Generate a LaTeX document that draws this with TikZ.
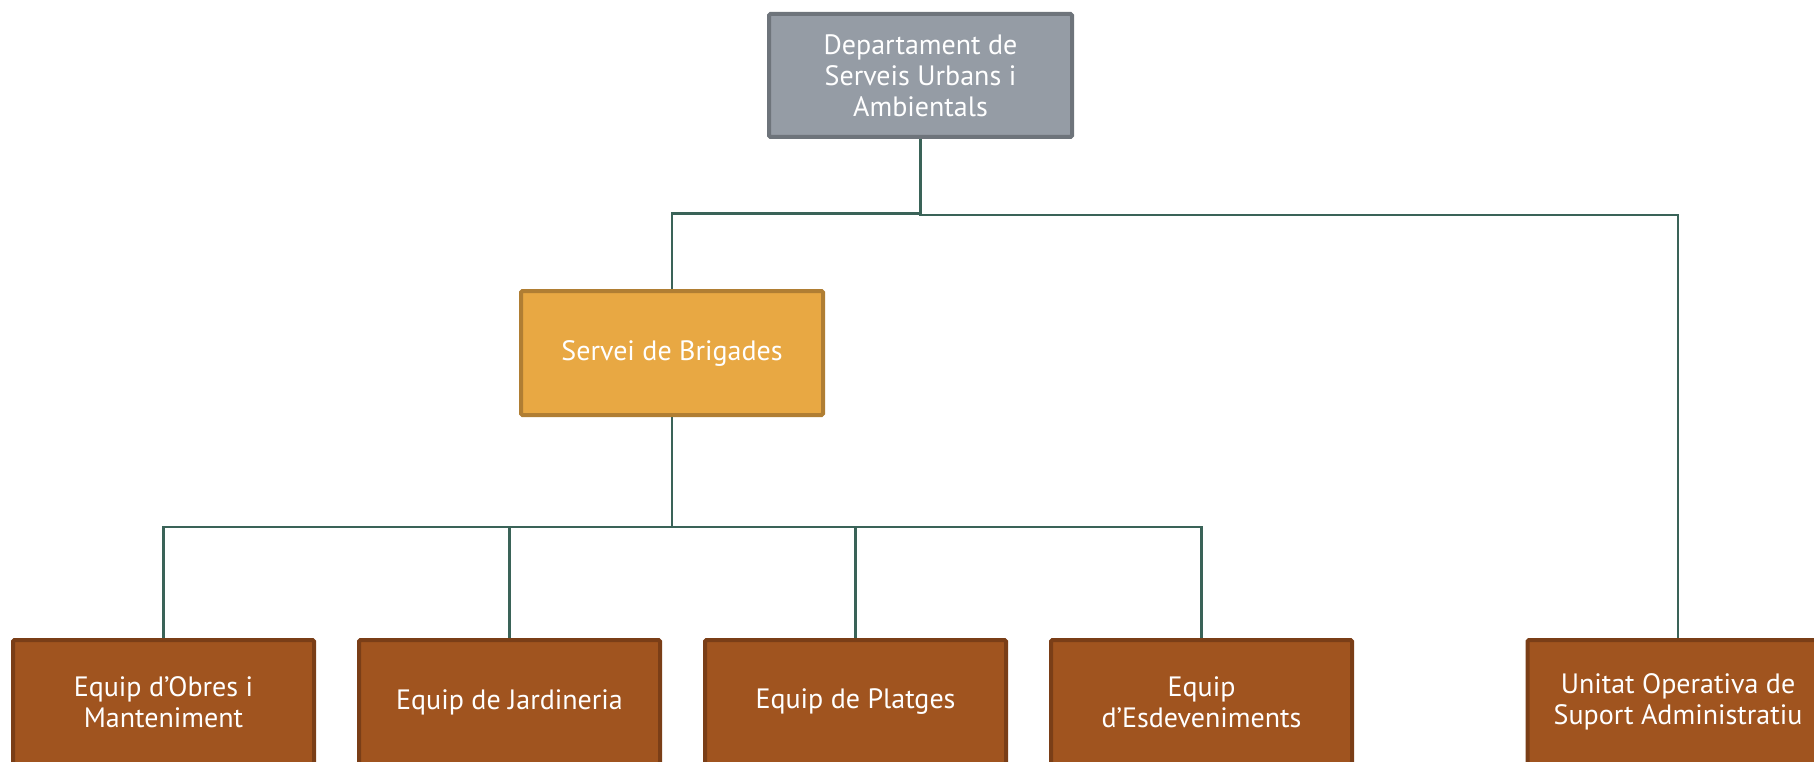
\documentclass[tikz,border=0pt]{standalone}
\usepackage{fontspec}
\setmainfont{PT Sans}
\definecolor{conn}{HTML}{3A6358}
\definecolor{grayfill}{HTML}{959CA5}
\definecolor{grayline}{HTML}{6E747B}
\definecolor{orfill}{HTML}{E8A843}
\definecolor{orline}{HTML}{B07E33}
\definecolor{brfill}{HTML}{A0541F}
\definecolor{brline}{HTML}{7A3E17}
\tikzset{
  box/.style={rectangle, rounded corners=1.5pt, line width=4pt, text=white, align=center,
    font=\fontsize{28}{31}\selectfont, inner sep=0pt},
  topbox/.style={box, fill=grayfill, draw=grayline, minimum width=303pt, minimum height=123pt},
  midbox/.style={box, fill=orfill, draw=orline, minimum width=302pt, minimum height=124pt},
  lowbox/.style={box, fill=brfill, draw=brline, minimum width=301pt, minimum height=124pt},
  conn/.style={draw=conn, line width=2.5pt}
}
\begin{document}
\begin{tikzpicture}[x=1pt,y=-1pt]
\clip (0,0) rectangle (1814,762);
\node[topbox] (top) at (920.5,75.5) {Departament de\\Serveis Urbans i\\Ambientals};
\node[midbox] (sb) at (672,353) {Servei de Brigades};
\node[lowbox] (e1) at (163.5,702) {Equip d’Obres i\\Manteniment};
\node[lowbox] (e2) at (509.5,702) {Equip de Jardineria};
\node[lowbox] (e3) at (855.5,702) {Equip de Platges};
\node[lowbox] (e4) at (1201.5,702) {Equip\\d’Esdeveniments};
\node[lowbox] (u5) at (1678,702) {Unitat Operativa de\\Suport Administratiu};
\draw[conn] (top.south) -- (top.south |- 0,215) -| (u5.north);
\draw[conn] (top.south |- 0,213.5) -| (sb.north);
\draw[conn] (sb.south) -- (sb.south |- 0,527);
\draw[conn] (e1.north) -- (e1.north |- 0,527) -- (e4.north |- 0,527) -- (e4.north);
\draw[conn] (e2.north |- 0,527) -- (e2.north);
\draw[conn] (e3.north |- 0,527) -- (e3.north);
\end{tikzpicture}
\end{document}
